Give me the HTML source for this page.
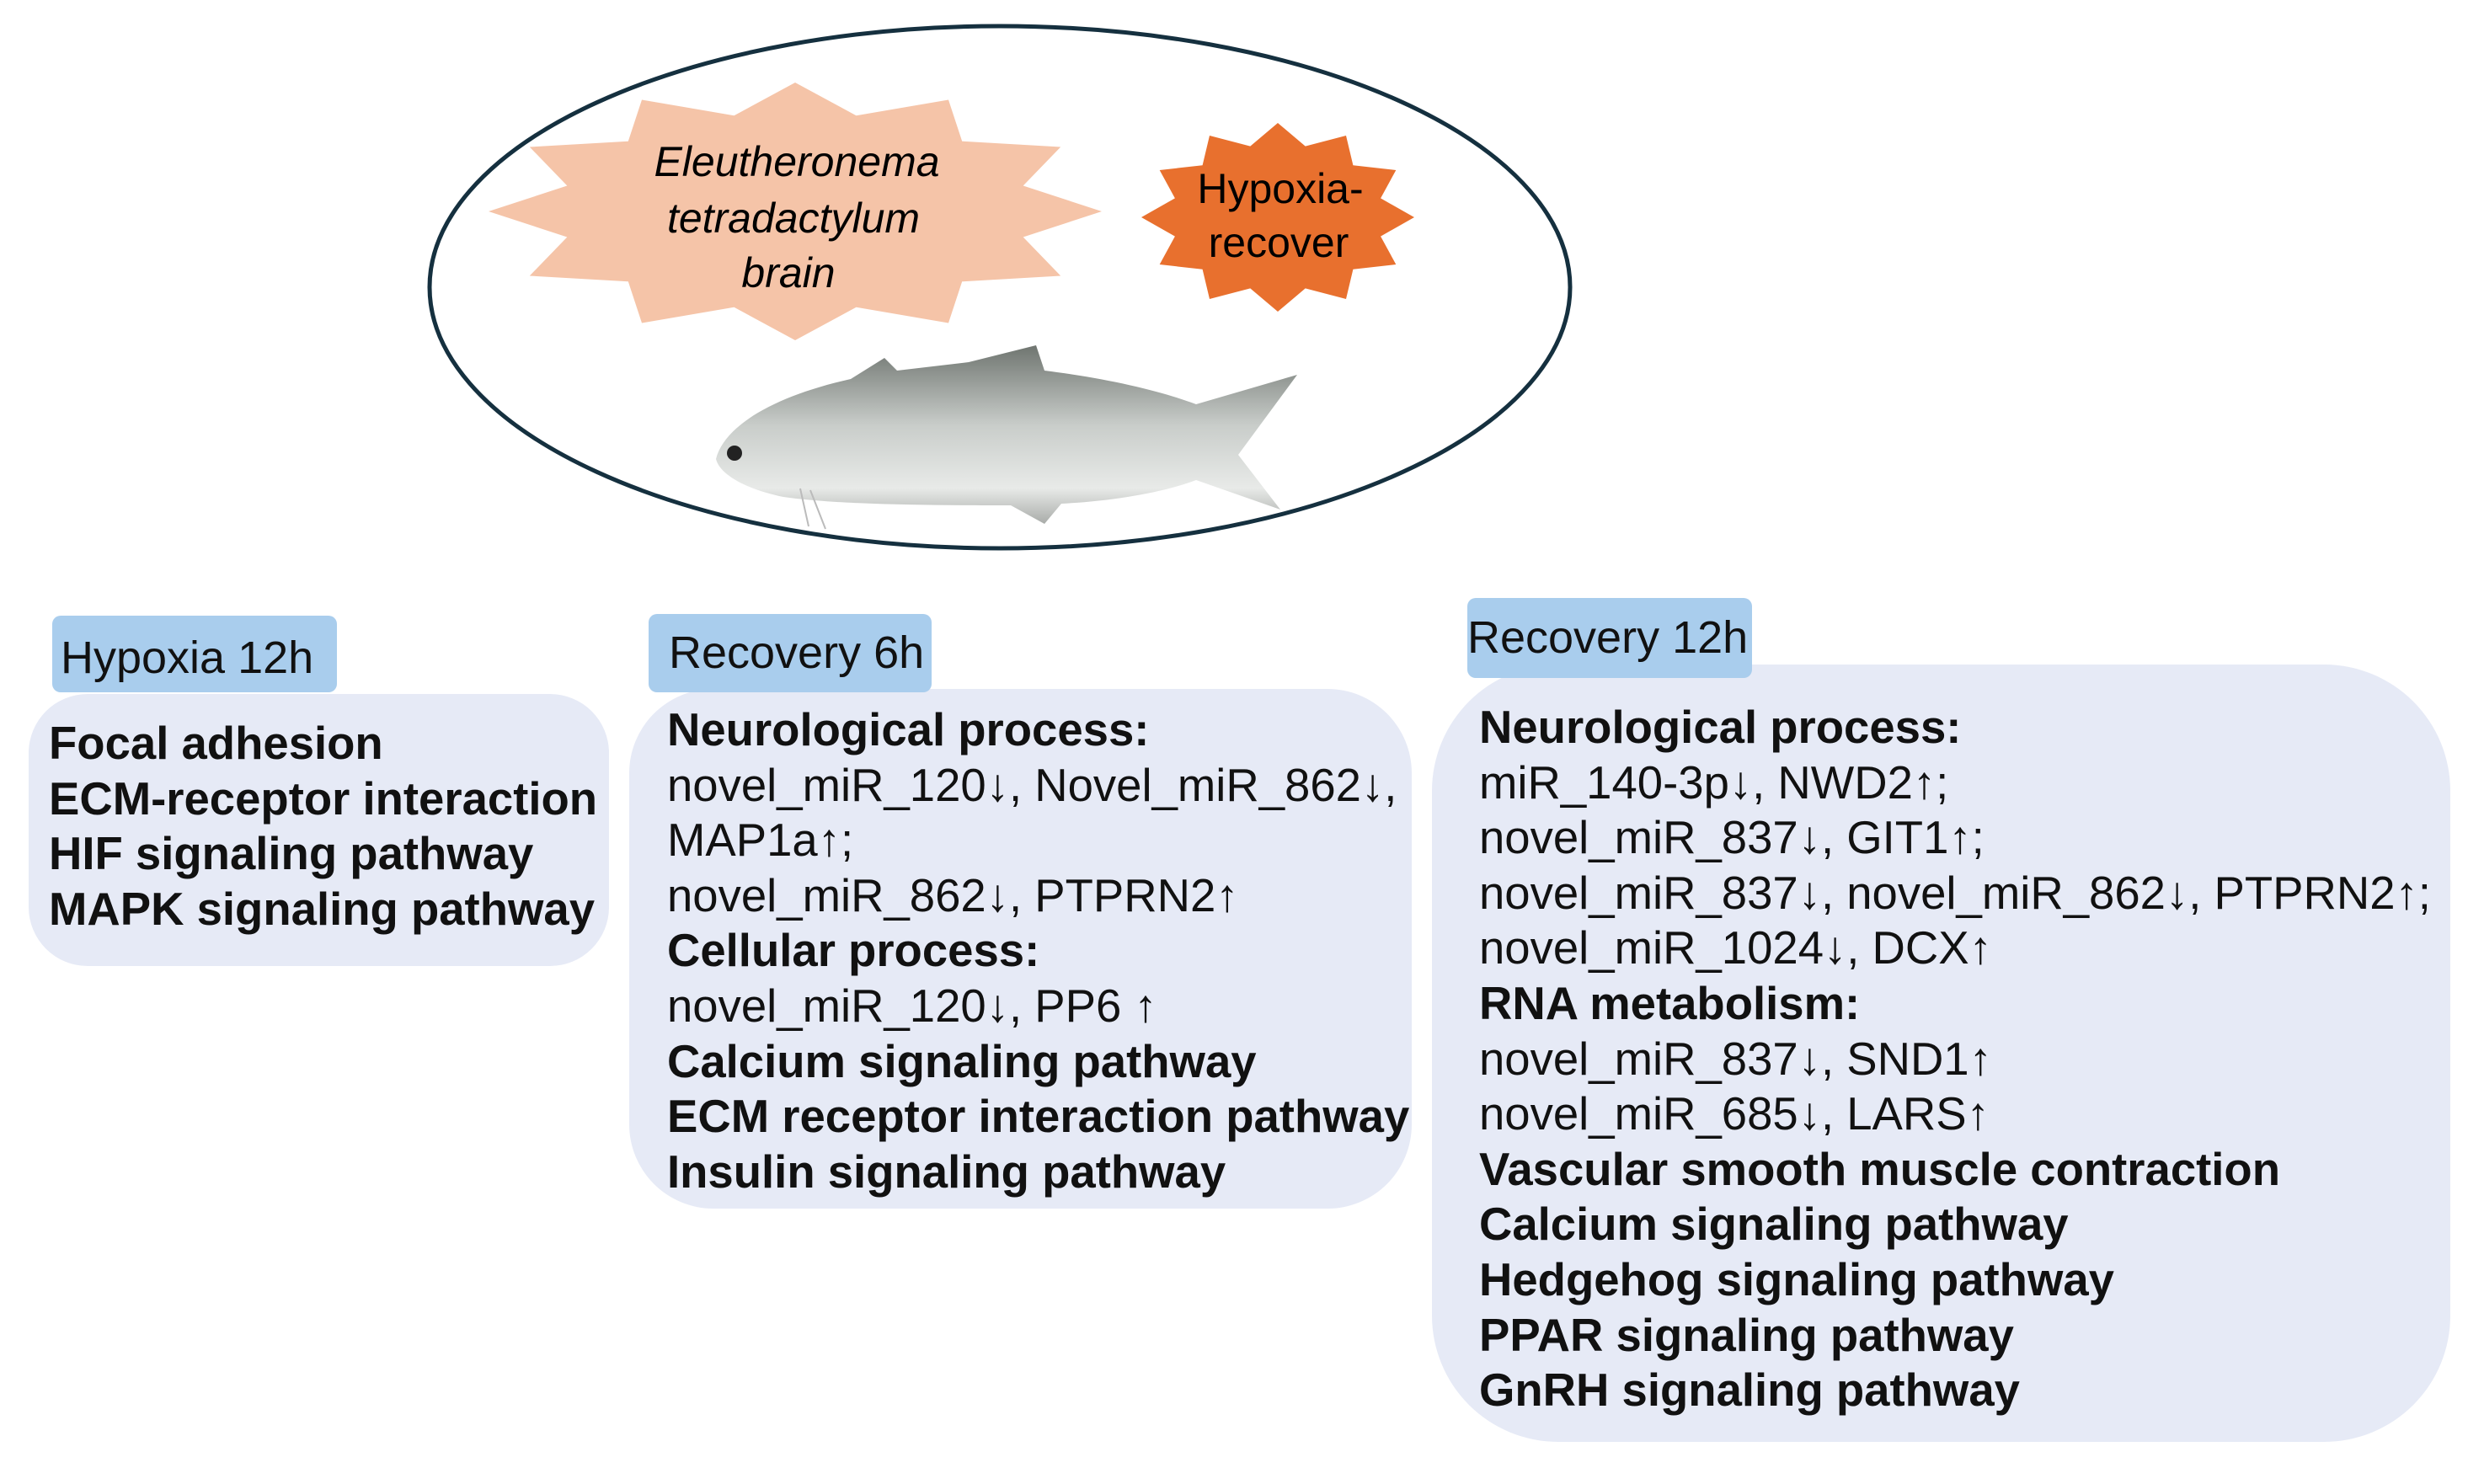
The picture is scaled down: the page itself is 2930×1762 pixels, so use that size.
<!DOCTYPE html>
<html><head><meta charset="utf-8"><style>
body{margin:0;width:2930px;height:1762px;background:#fff;position:relative;overflow:hidden;font-family:"Liberation Sans",Arial,sans-serif;}
.lab{position:absolute;background:#A9CDED;border-radius:10px;font-size:54px;color:#111;box-sizing:border-box;padding-left:10px;white-space:nowrap;}
.box{position:absolute;background:#E6EAF6;box-sizing:border-box;}
.t{position:absolute;font-size:54.5px;line-height:65.6px;color:#111;white-space:nowrap;}
.t b{font-weight:bold;}
</style></head><body>
<svg width="2930" height="700" style="position:absolute;left:0;top:0">
<defs>
<linearGradient id="fg" x1="0" y1="0" x2="0" y2="1">
<stop offset="0" stop-color="#6f7570"/><stop offset="0.45" stop-color="#c9cdca"/><stop offset="0.8" stop-color="#e8eae8"/><stop offset="1" stop-color="#a9aca9"/></linearGradient>
</defs>
<ellipse cx="1187" cy="341" rx="677" ry="310" fill="#fff" stroke="#15303f" stroke-width="5"/>
<polygon id="s1" fill="#F5C4A8" points=""/>
<polygon id="s2" fill="#E8702E" points=""/>
<path d="M850 545 C860 505 920 470 1010 450 L1050 425 L1065 440 L1150 430 L1230 410 L1240 440 C1320 450 1380 465 1420 480 L1540 445 L1470 540 L1520 605 L1420 570 C1380 585 1320 595 1260 598 L1240 622 L1200 600 C1120 600 1000 600 930 590 C890 582 855 565 850 545 Z" fill="url(#fg)"/>
<circle cx="872" cy="538" r="9" fill="#222"/>
<path d="M950 580 L960 625 M962 582 L980 628" stroke="#bbb" stroke-width="2"/>
<text x="946" y="209" font-size="50" font-style="italic" text-anchor="middle" font-family="Liberation Sans, sans-serif">Eleutheronema</text>
<text x="942" y="276" font-size="50" font-style="italic" text-anchor="middle" font-family="Liberation Sans, sans-serif">tetradactylum</text>
<text x="936" y="341" font-size="50" font-style="italic" text-anchor="middle" font-family="Liberation Sans, sans-serif">brain</text>
<text x="1520" y="241" font-size="50" text-anchor="middle" font-family="Liberation Sans, sans-serif">Hypoxia-</text>
<text x="1518" y="305" font-size="50" text-anchor="middle" font-family="Liberation Sans, sans-serif">recover</text>
</svg>
<script>
function star(id,cx,cy,rx,ry,k){var p=[];for(var i=0;i<24;i++){var a=i*Math.PI/12;var f=i%2?k:1;p.push((cx+Math.sin(a)*rx*f).toFixed(1)+","+(cy-Math.cos(a)*ry*f).toFixed(1));}document.getElementById(id).setAttribute("points",p.join(" "));}
star("s1",944,251,364,153,0.77);star("s2",1517,258,162,112,0.78);
</script>
<div class="box" style="left:34px;top:824px;width:689px;height:323px;border-radius:70px;"></div>
<div class="lab" style="left:62px;top:731px;width:338px;height:91px;line-height:100px;">Hypoxia 12h</div>
<div class="t" style="left:58px;top:850px;"><b>Focal adhesion<br>ECM-receptor interaction<br>HIF signaling pathway<br>MAPK signaling pathway</b></div>

<div class="box" style="left:747px;top:818px;width:929px;height:617px;border-radius:100px;"></div>
<div class="lab" style="left:770px;top:729px;width:336px;height:93px;line-height:93px;padding-left:24px;">Recovery 6h</div>
<div class="t" style="left:792px;top:834px;"><b>Neurological process:</b><br>novel_miR_120↓, Novel_miR_862↓,<br>MAP1a↑;<br>novel_miR_862↓, PTPRN2↑<br><b>Cellular process:</b><br>novel_miR_120↓, PP6 ↑<br><b>Calcium signaling pathway<br>ECM receptor interaction pathway<br>Insulin signaling pathway</b></div>

<div class="box" style="left:1700px;top:789px;width:1209px;height:923px;border-radius:150px;"></div>
<div class="lab" style="left:1742px;top:710px;width:338px;height:95px;line-height:95px;padding-left:0px;">Recovery 12h</div>
<div class="t" style="left:1756px;top:831px;"><b>Neurological process:</b><br>miR_140-3p↓, NWD2↑;<br>novel_miR_837↓, GIT1↑;<br>novel_miR_837↓, novel_miR_862↓, PTPRN2↑;<br>novel_miR_1024↓, DCX↑<br><b>RNA metabolism:</b><br>novel_miR_837↓, SND1↑<br>novel_miR_685↓, LARS↑<br><b>Vascular smooth muscle contraction<br>Calcium signaling pathway<br>Hedgehog signaling pathway<br>PPAR signaling pathway<br>GnRH signaling pathway</b></div>
</body></html>
